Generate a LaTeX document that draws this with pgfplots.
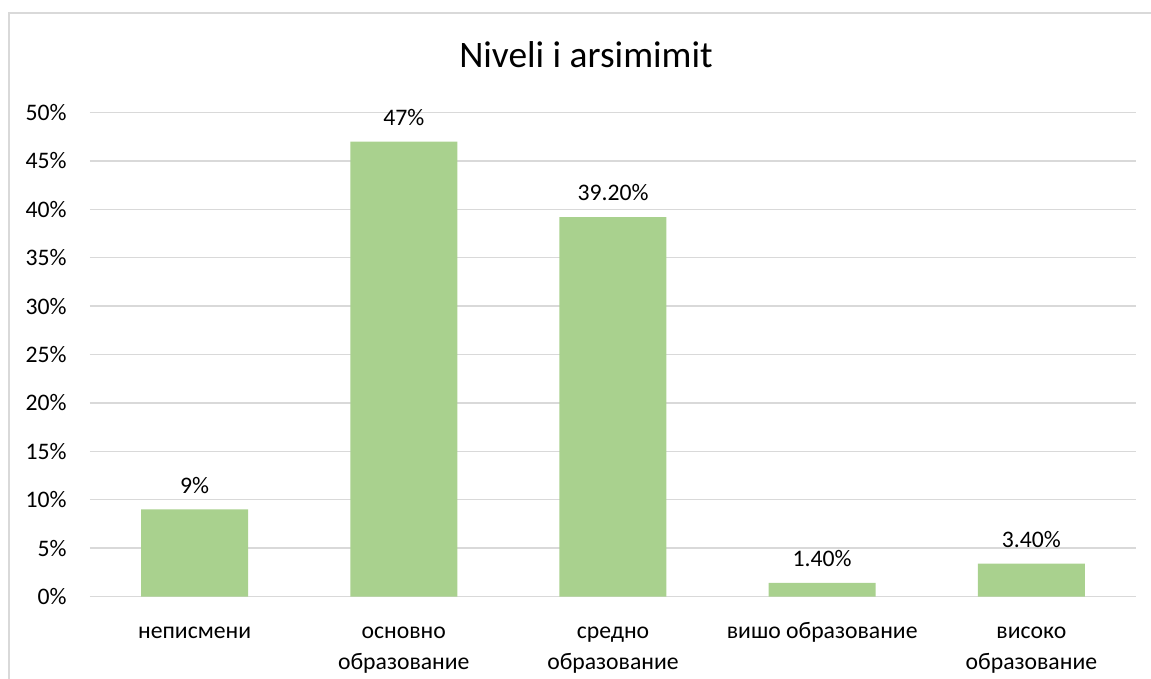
\documentclass[border=0pt]{standalone}
\usepackage{pgfplots}
\pgfplotsset{compat=1.18}
\usepackage{fontspec}
\setmainfont{Carlito}
\definecolor{barc}{HTML}{A9D18E}
\definecolor{gridc}{HTML}{D9D9D9}
\newcommand{\tl}{\fontsize{11.85bp}{15.5bp}\selectfont}
\begin{document}
\begin{tikzpicture}
\path[use as bounding box] (-45bp,-41.25bp) rectangle (530.5bp,298.25bp);
\draw[gridc, line width=0.9bp] (-40.5bp,-60bp) -- (-40.5bp,291.75bp) -- (560bp,291.75bp);
\begin{axis}[
  at={(0,0)}, anchor=south west,
  scale only axis, width=523bp, height=242bp,
  xmin=-0.5, xmax=4.5, ymin=0, ymax=50,
  xtick={0,1,2,3,4},
  xticklabels={
    {\begin{tabular}[t]{@{}c@{}}неписмени\end{tabular}},
    {\begin{tabular}[t]{@{}c@{}}основно\\образование\end{tabular}},
    {\begin{tabular}[t]{@{}c@{}}средно\\образование\end{tabular}},
    {\begin{tabular}[t]{@{}c@{}}вишо образование\end{tabular}},
    {\begin{tabular}[t]{@{}c@{}}високо\\образование\end{tabular}}},
  ytick={0,5,10,15,20,25,30,35,40,45,50},
  yticklabels={0\%,5\%,10\%,15\%,20\%,25\%,30\%,35\%,40\%,45\%,50\%},
  ymajorgrids, grid style={gridc, line width=0.75bp},
  axis line style={draw=none},
  major tick length=0pt,
  tick label style={font=\tl, text=black},
  yticklabel style={anchor=east, inner sep=0pt, xshift=-11.5bp},
  xticklabel style={anchor=base, inner sep=0pt, yshift=-20.75bp},
  clip=false,
]
\addplot[ybar, bar width=53.5bp, fill=barc, draw=none,
  nodes near coords, point meta=explicit symbolic,
  nodes near coords style={font=\tl, text=black, anchor=south, inner sep=0pt, yshift=7.8bp}]
  coordinates {(0,9) [9\%] (1,47) [47\%] (2,39.2) [39.20\%] (3,1.4) [1.40\%] (4,3.4) [3.40\%]};
\end{axis}
\node[anchor=base, font=\fontsize{18.7bp}{22bp}\selectfont, text=black] at (248bp,264.25bp) {Niveli i arsimimit};
\end{tikzpicture}
\end{document}
